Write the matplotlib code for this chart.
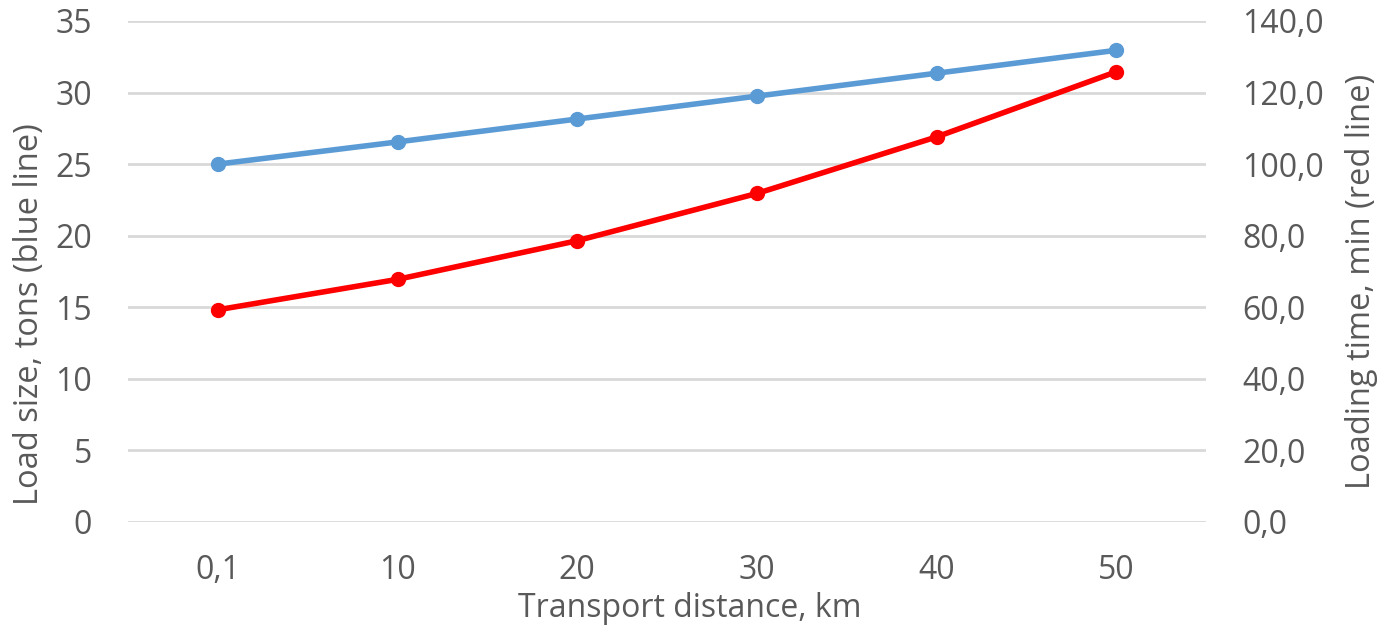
import matplotlib
matplotlib.use('Agg')
import matplotlib.pyplot as plt

# chart data
distances = ['0,1', '10', '20', '30', '40', '50']
loadSize = [25.0, 26.55, 28.15, 29.75, 31.35, 32.95]
loadTime = [59.3, 67.8, 78.6, 91.8, 107.6, 125.8]
leftTicks = [0, 5, 10, 15, 20, 25, 30, 35]
rightTicks = [0, 20, 40, 60, 80, 100, 120, 140]

plt.rcParams['font.family'] = ['Open Sans', 'DejaVu Sans']
textColor = '#595959'
gridColor = '#d9d9d9'

fig = plt.figure(figsize=(13.81, 6.28), dpi=100)
ax1 = fig.add_axes([0.0927, 0.1688, 0.7806, 0.7978])
ax2 = ax1.twinx()

x = range(len(distances))

for yv in leftTicks:
    ax1.axhline(yv, color=gridColor, lw=2, zorder=0)

ax1.plot(x, loadSize, color='#5b9bd5', lw=4, marker='o', markersize=10,
         solid_capstyle='round', zorder=3)
ax2.plot(x, loadTime, color='#ff0000', lw=4, marker='o', markersize=10,
         solid_capstyle='round', zorder=3)

ax1.set_xlim(-0.5, 5.5)
ax1.set_ylim(0, 35)
ax2.set_ylim(0, 140)
ax1.set_xticks(list(x))
ax1.set_xticklabels(distances)
ax1.set_yticks(leftTicks)
ax1.set_yticklabels([str(v) for v in leftTicks])
ax2.set_yticks(rightTicks)
ax2.set_yticklabels([('%.1f' % v).replace('.', ',') for v in rightTicks])

for ax in (ax1, ax2):
    for s in ax.spines.values():
        s.set_visible(False)
    ax.tick_params(length=0, labelsize=23, colors=textColor)

ax1.tick_params(axis='x', pad=23)
ax1.tick_params(axis='y', pad=26)
ax2.tick_params(axis='y', pad=26)

ax1.set_xlabel('Transport distance, km', fontsize=23, color=textColor)
ax1.set_ylabel('Load size, tons (blue line)', fontsize=23.5, color=textColor)
ax2.set_ylabel('Loading time, min (red line)', fontsize=23.5, color=textColor)
ax1.xaxis.set_label_coords(0.521, -0.14)
ax1.yaxis.set_label_coords(-0.0765, 0.414)
ax2.yaxis.set_label_coords(1.129, 0.481)

fig.savefig('out.png', dpi=100)
